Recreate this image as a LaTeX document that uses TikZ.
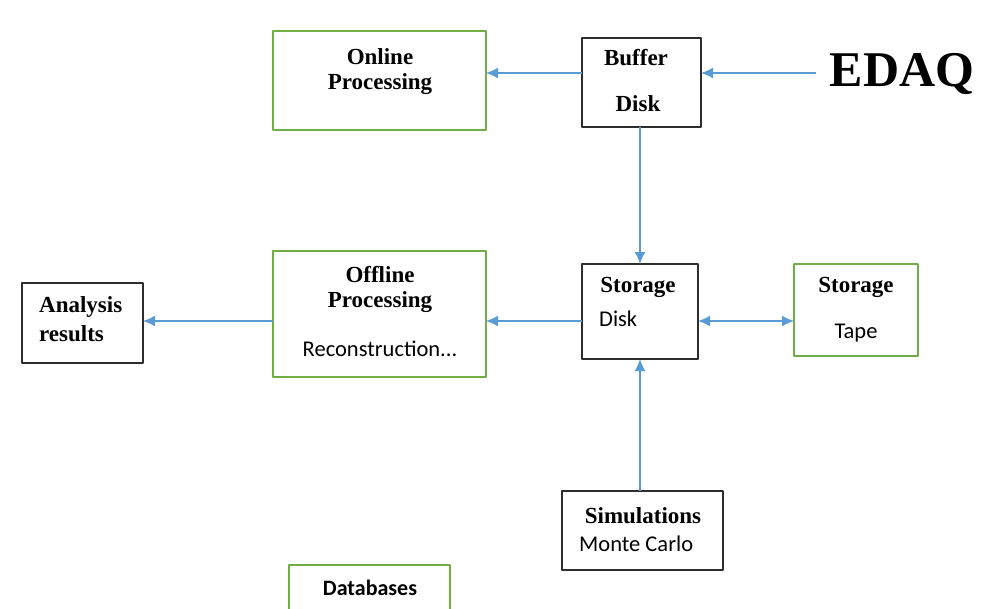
\documentclass[tikz,border=0pt]{standalone}
\usepackage{fontspec}
\setmainfont{Liberation Serif}
\newfontfamily\calib{Carlito}
\usetikzlibrary{arrows.meta}
\definecolor{arrblue}{RGB}{91,155,213}
\definecolor{boxgreen}{RGB}{112,173,71}
\definecolor{boxgray}{RGB}{45,45,45}
\tikzset{
	blkbox/.style={draw=boxgray, line width=1.8pt, inner sep=0pt, outer sep=0pt},
	grnbox/.style={draw=boxgreen, line width=1.5pt, inner sep=0pt, outer sep=0pt},
	hd/.style={font=\fontsize{23}{26}\selectfont\bfseries, inner sep=0pt},
	sub/.style={font=\calib\fontsize{22.5}{26}\selectfont, inner sep=0pt},
	flow/.style={draw=arrblue, line width=1.5pt, -{Latex[length=12pt,width=11pt]}}
}
\begin{document}
\begin{tikzpicture}[x=1pt, y=-1pt, line join=round]
		\useasboundingbox (0,0) rectangle (999,608);
		% boxes
		\node[grnbox, minimum width=213pt, minimum height=99pt] (online) at (379.5,80.5) {};
		\node[blkbox, minimum width=119pt, minimum height=89pt] (buffer) at (641.5,82.5) {};
		\node[grnbox, minimum width=213pt, minimum height=126pt] (offline) at (379.5,314) {};
		\node[blkbox, minimum width=116pt, minimum height=95pt] (disk) at (640,311.5) {};
		\node[grnbox, minimum width=124pt, minimum height=92pt] (tape) at (856,310) {};
		\node[blkbox, minimum width=121pt, minimum height=80pt] (analysis) at (82.5,323) {};
		\node[blkbox, minimum width=161pt, minimum height=79pt] (sims) at (642.5,530.5) {};
		\node[grnbox, minimum width=161pt, minimum height=80pt] (db) at (369.5,605) {};
		% texts
		\node[hd] (onlineA) at (380,57) {Online};
		\node[hd] (onlineB) at (380,84) {Processing};
		\node[hd] (bufferA) at (636,58) {Buffer};
		\node[hd] (bufferB) at (638,104) {Disk};
		\node[font=\fontsize{50}{56}\selectfont\bfseries, inner sep=0pt] (edaq) at (902,74) {EDAQ};
		\node[hd] (offlineA) at (380,275) {Offline};
		\node[hd] (offlineB) at (380,302) {Processing};
		\node[sub] (offlineC) at (380,349) {Reconstruction...};
		\node[hd] (diskA) at (638,287) {Storage};
		\node[sub, anchor=west] (diskB) at (599,319) {Disk};
		\node[hd] (tapeA) at (856,287) {Storage};
		\node[sub] (tapeB) at (856,333) {Tape};
		\node[hd, anchor=west] (analysisA) at (39,307) {Analysis};
		\node[hd, anchor=west] (analysisB) at (39,334) {results};
		\node[hd] (simsA) at (643,516) {Simulations};
		\node[sub, anchor=west] (simsB) at (579,544) {Monte Carlo};
		\node[sub, font=\calib\bfseries\fontsize{22}{26}\selectfont] (dbA) at (370,588) {Databases};
		% connectors
		\draw[flow] (edaq.west) ++(-14,-1) coordinate (edaqL) (edaqL) -- (edaqL -| buffer.east);
		\draw[flow] (buffer.west |- edaqL) -- (online.east |- edaqL);
		\draw[flow] (buffer.south -| 640,0) -- (disk.north -| 640,0);
		\draw[flow] (disk.west |- 0,321) -- (offline.east |- 0,321);
		\draw[flow] (offline.west |- 0,321) -- (analysis.east |- 0,321);
		\draw[flow, {Latex[length=12pt,width=11pt]}-{Latex[length=12pt,width=11pt]}] (disk.east |- 0,321) -- (tape.west |- 0,321);
		\draw[flow] (sims.north -| 640,0) -- (disk.south -| 640,0);
	\end{tikzpicture}
\end{document}
